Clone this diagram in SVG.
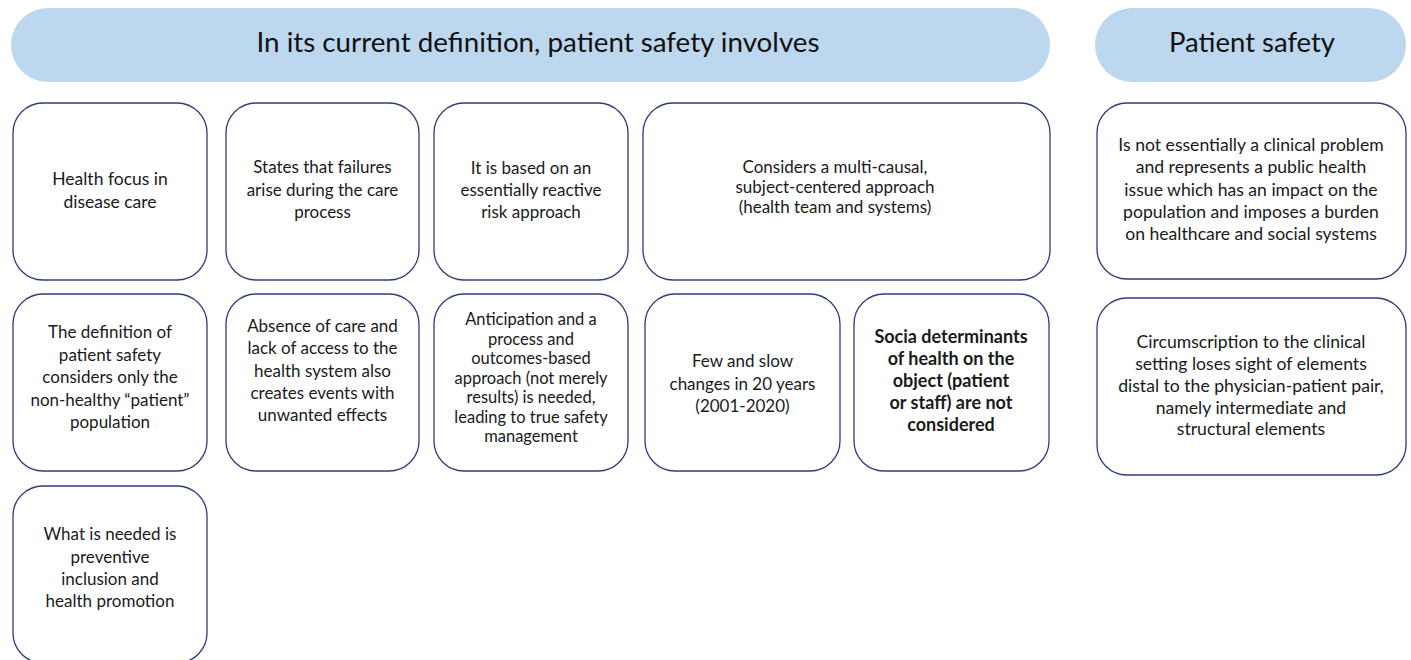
<svg xmlns="http://www.w3.org/2000/svg" width="1411" height="660" viewBox="0 0 1411 660">
<style>
.hdr{fill:#BDD7EE;stroke:none}
.hdrtxt{font-family:"Lato","Open Sans",sans-serif;font-size:26px;fill:#111;text-anchor:middle}
.box{fill:#fff;stroke:#2F3C7E;stroke-width:1.3}
.t{font-family:"Lato","Open Sans",sans-serif;font-size:17px;fill:#1a1a1a;text-anchor:middle}
.b{font-weight:bold;font-size:18px}
.r{font-size:17.6px}
</style>
<rect width="1411" height="660" fill="#fff"/>
<g id="header-main">
<rect class="hdr" x="11" y="8" width="1039" height="74" rx="37"/>
<text class="hdrtxt" x="538" y="52" textLength="563" lengthAdjust="spacingAndGlyphs">In its current definition, patient safety involves</text>
</g>
<g id="header-right">
<rect class="hdr" x="1095" y="8" width="311" height="74" rx="37"/>
<text class="hdrtxt" x="1252" y="52" textLength="166" lengthAdjust="spacingAndGlyphs">Patient safety</text>
</g>
<g id="n1">
<rect class="box" x="13" y="103" width="194" height="177" rx="30"/>
<text class="t" style="font-size:17.5px"><tspan x="110" y="185">Health focus in</tspan><tspan x="110" y="208">disease care</tspan></text>
</g>
<g id="n2">
<rect class="box" x="226" y="103" width="193" height="177" rx="30"/>
<text class="t"><tspan x="322.5" y="173">States that failures</tspan><tspan x="322.5" y="195.5">arise during the care</tspan><tspan x="322.5" y="218">process</tspan></text>
</g>
<g id="n3">
<rect class="box" x="434" y="103" width="194" height="177" rx="30"/>
<text class="t"><tspan x="531" y="174">It is based on an</tspan><tspan x="531" y="196">essentially reactive</tspan><tspan x="531" y="218">risk approach</tspan></text>
</g>
<g id="n4">
<rect class="box" x="643" y="103" width="407" height="177" rx="30"/>
<text class="t"><tspan x="835" y="173">Considers a multi-causal,</tspan><tspan x="835" y="193">subject-centered approach</tspan><tspan x="835" y="213">(health team and systems)</tspan></text>
</g>
<g id="r1">
<rect class="box" x="1097" y="103" width="309" height="176" rx="30"/>
<text class="t r"><tspan x="1251" y="151">Is not essentially a clinical problem</tspan><tspan x="1251" y="173">and represents a public health</tspan><tspan x="1251" y="195.5">issue which has an impact on the</tspan><tspan x="1251" y="218">population and imposes a burden</tspan><tspan x="1251" y="240">on healthcare and social systems</tspan></text>
</g>
<g id="n5">
<rect class="box" x="13" y="294" width="194" height="177" rx="30"/>
<text class="t"><tspan x="110" y="338">The definition of</tspan><tspan x="110" y="361">patient safety</tspan><tspan x="110" y="383">considers only the</tspan><tspan x="110" y="406">non-healthy “patient”</tspan><tspan x="110" y="428">population</tspan></text>
</g>
<g id="n6">
<rect class="box" x="226" y="294" width="193" height="177" rx="30"/>
<text class="t"><tspan x="322.5" y="332">Absence of care and</tspan><tspan x="322.5" y="354">lack of access to the</tspan><tspan x="322.5" y="376.5">health system also</tspan><tspan x="322.5" y="398.5">creates events with</tspan><tspan x="322.5" y="421">unwanted effects</tspan></text>
</g>
<g id="n7">
<rect class="box" x="434" y="294" width="194" height="177" rx="30"/>
<text class="t" style="font-size:16.5px"><tspan x="531" y="325">Anticipation and a</tspan><tspan x="531" y="344.5">process and</tspan><tspan x="531" y="364">outcomes-based</tspan><tspan x="531" y="383.5">approach (not merely</tspan><tspan x="531" y="403">results) is needed,</tspan><tspan x="531" y="422.5">leading to true safety</tspan><tspan x="531" y="442">management</tspan></text>
</g>
<g id="n8">
<rect class="box" x="645" y="294" width="195" height="177" rx="30"/>
<text class="t"><tspan x="742.5" y="367">Few and slow</tspan><tspan x="742.5" y="389.5">changes in 20 years</tspan><tspan x="742.5" y="412">(2001-2020)</tspan></text>
</g>
<g id="n9">
<rect class="box" x="854" y="294" width="195" height="177" rx="30"/>
<text class="t b"><tspan x="951" y="343">Socia determinants</tspan><tspan x="951" y="365">of health on the</tspan><tspan x="951" y="387">object (patient</tspan><tspan x="951" y="409">or staff) are not</tspan><tspan x="951" y="431">considered</tspan></text>
</g>
<g id="r2">
<rect class="box" x="1097" y="298" width="309" height="177" rx="30"/>
<text class="t r"><tspan x="1251" y="348">Circumscription to the clinical</tspan><tspan x="1251" y="370">setting loses sight of elements</tspan><tspan x="1251" y="392">distal to the physician-patient pair,</tspan><tspan x="1251" y="413.5">namely intermediate and</tspan><tspan x="1251" y="435">structural elements</tspan></text>
</g>
<g id="n10">
<rect class="box" x="13" y="486" width="194" height="177" rx="30"/>
<text class="t"><tspan x="110" y="540">What is needed is</tspan><tspan x="110" y="562.5">preventive</tspan><tspan x="110" y="585">inclusion and</tspan><tspan x="110" y="607">health promotion</tspan></text>
</g>
<g id="connectors"></g>
</svg>
